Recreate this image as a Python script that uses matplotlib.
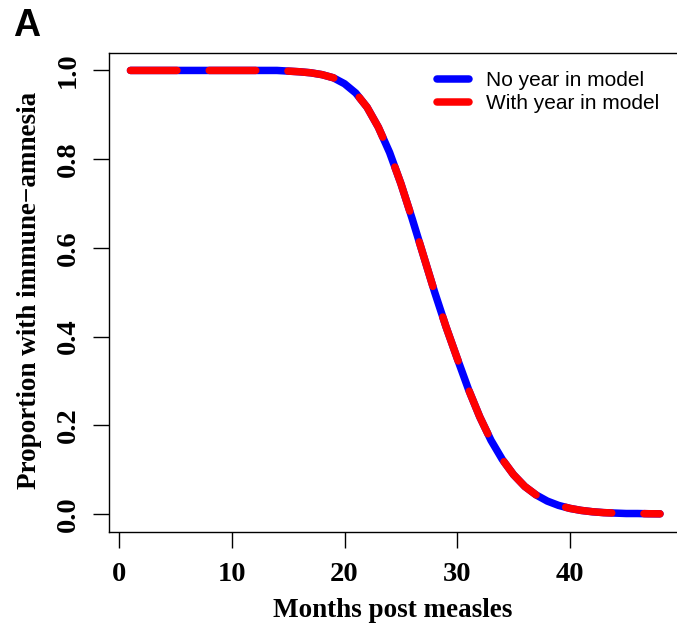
# 麻疹後の免疫健忘の割合をプロットする

import matplotlib.pyplot as plt
from matplotlib.lines import Line2D

months = list(range(1, 49))

# 年を含まないモデル
no_year = [1.0, 1.0, 1.0, 1.0, 1.0, 1.0, 1.0, 1.0, 1.0, 1.0,
           1.0, 1.0, 1.0, 1.0, 0.9985, 0.997, 0.9947, 0.9905, 0.9835, 0.970,
           0.949, 0.917, 0.872, 0.815, 0.745, 0.666, 0.583, 0.500, 0.4225, 0.351,
           0.281, 0.219, 0.166, 0.123, 0.0886, 0.062, 0.043, 0.029, 0.0193, 0.0126,
           0.008, 0.005, 0.003, 0.002, 0.001, 0.001, 0.0005, 0.0003]

# 年を含むモデル
with_year = [1.0, 1.0, 1.0, 1.0, 1.0, 1.0, 1.0, 1.0, 1.0, 1.0,
             1.0, 1.0, 1.0, 1.0, 0.9985, 0.997, 0.9947, 0.9905, 0.9835, 0.970,
             0.949, 0.917, 0.872, 0.815, 0.745, 0.666, 0.583, 0.500, 0.4225, 0.351,
             0.281, 0.219, 0.166, 0.123, 0.0886, 0.062, 0.043, 0.029, 0.0193, 0.0126,
             0.008, 0.005, 0.003, 0.002, 0.001, 0.001, 0.0005, 0.0003]

series_labels = ["No year in model", "With year in model"]
x_ticks = [0, 10, 20, 30, 40]
y_ticks = [0.0, 0.2, 0.4, 0.6, 0.8, 1.0]

W, H = 677, 628
fig = plt.figure(figsize=(W / 100, H / 100), dpi=100)

# R風の軸 (右側の枠は切り落とす)
left, right, top, bottom = 109.3, 677.0, 52.7, 531.7
ax = fig.add_axes([left / W, 1 - bottom / H, (right - left) / W, (bottom - top) / H])

serif = {"family": "Liberation Serif", "weight": "bold"}
lw = 5.4

ax.plot(months, no_year, color="blue", lw=lw, solid_capstyle="round", solid_joinstyle="round")
red, = ax.plot(months, with_year, color="red", lw=lw, dash_capstyle="round", dash_joinstyle="round")
red.set_dashes([6.2, 4.3])

ax.set_xlim(-0.88, 49.51)
ax.set_ylim(-0.04, 1.04)

for s in ["left", "top", "bottom"]:
    ax.spines[s].set_linewidth(1.0)
ax.spines["right"].set_visible(False)

ax.set_xticks(x_ticks)
ax.set_xticklabels([str(v) for v in x_ticks], fontdict=serif, fontsize=20.5)
ax.set_yticks(y_ticks)
ax.set_yticklabels(["%.1f" % v for v in y_ticks], fontdict=serif, fontsize=20.5,
                   rotation=90, va="center")
ax.tick_params(axis="both", direction="out", length=11.5, width=1.0)
ax.tick_params(axis="x", pad=10)
ax.tick_params(axis="y", pad=9)

ax.set_xlabel("Months post measles", fontdict=serif, fontsize=19.5, va="center")
ax.xaxis.set_label_coords(0.5, -0.165)
ax.set_ylabel("Proportion with immune\u2212amnesia", fontdict=serif, fontsize=19.5, va="center")
ax.yaxis.set_label_coords(-0.1397, 0.5046)

# 凡例
handles = [Line2D([], [], color="blue", lw=lw, solid_capstyle="round"),
           Line2D([], [], color="red", lw=lw, solid_capstyle="round")]
ax.legend(handles, series_labels, loc="upper left",
          bbox_to_anchor=(436.5 / W, 1 - 71 / H), bbox_transform=fig.transFigure,
          frameon=False, borderpad=0, borderaxespad=0,
          handlelength=1.55, handletextpad=0.85, labelspacing=0.2,
          prop={"family": "Liberation Sans", "size": 15})

fig.text(13 / W, 1 - 36 / H, "A", fontsize=27, fontweight="bold",
         family="Liberation Sans", va="baseline", ha="left")

plt.savefig("out.png", dpi=100)
plt.close()
